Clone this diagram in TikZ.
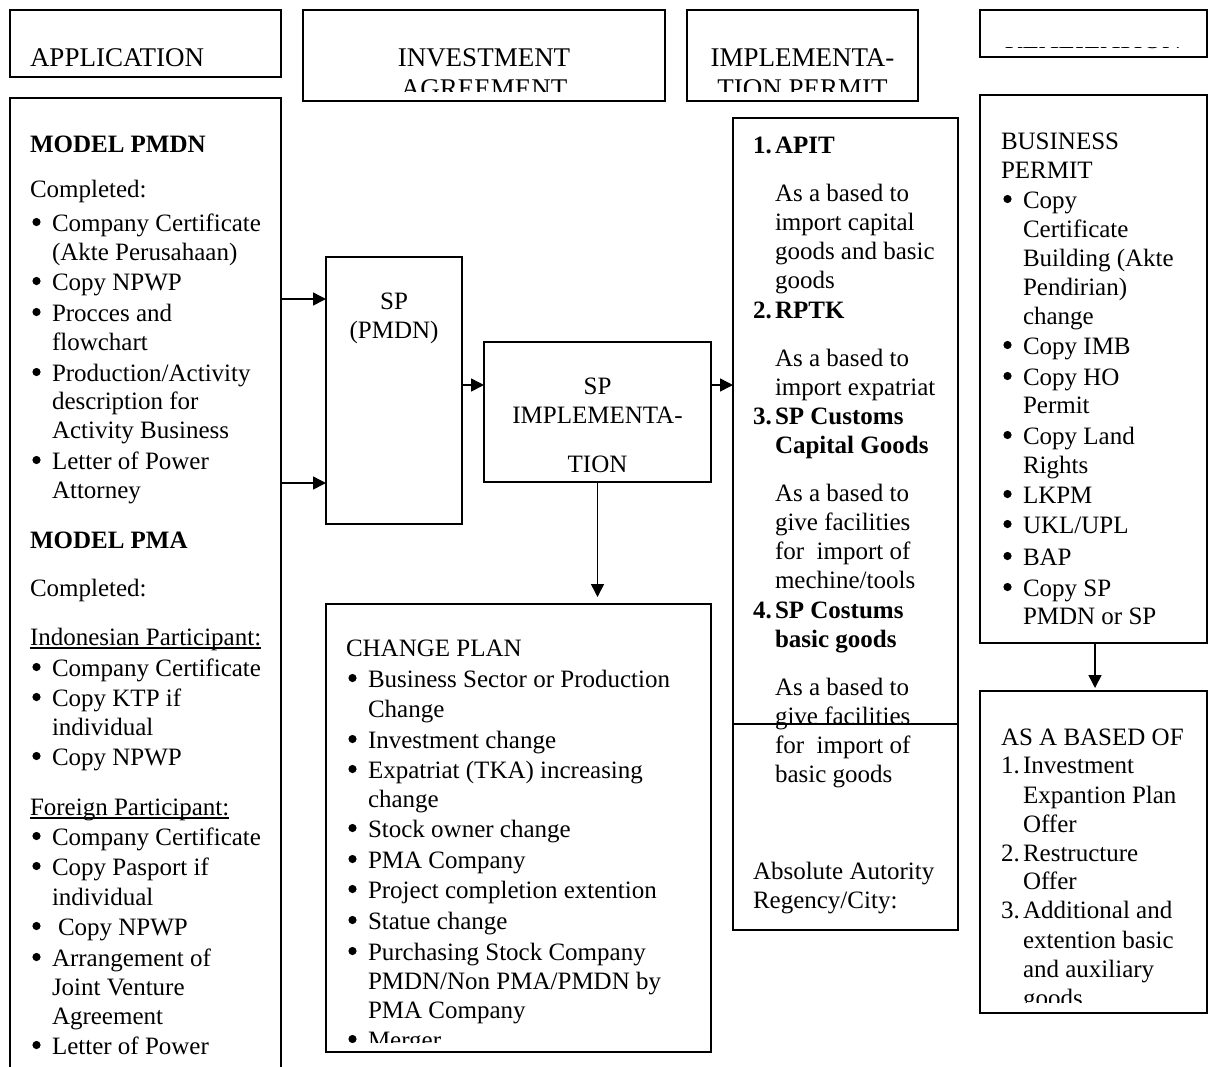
\documentclass[tikz,border=0pt]{standalone}
\usepackage{fontspec}
\setmainfont{Liberation Serif}
\usetikzlibrary{arrows.meta}
\tikzset{
  box/.style={draw, line width=1.6pt, anchor=north west, inner sep=0pt, outer sep=0pt},
  txt/.style={anchor=base west, inner sep=0pt, outer sep=0pt, font=\fontsize{25}{30}\selectfont},
  ctxt/.style={anchor=base, inner sep=0pt, outer sep=0pt, font=\fontsize{25}{30}\selectfont},
  htxt/.style={anchor=base west, inner sep=0pt, outer sep=0pt, font=\fontsize{27}{31}\selectfont},
  hctxt/.style={anchor=base, inner sep=0pt, outer sep=0pt, font=\fontsize{27}{31}\selectfont},
  arr/.style={line width=1.5pt, -{Triangle[length=13pt,width=13pt]}},
}
% box: name, x, y (top-left, image px), width, height
\newcommand\bx[5]{\node[box, minimum width=#4pt, minimum height=#5pt] (#1) at (#2,#3) {};}
% text line: [style] name x y text
\newcommand\ptxt[5][txt]{\node[#1] (#2) at (#3,#4) {#5};}
% bullet line: name bulletx textx y text
\newcommand\bline[5]{\fill (#2,#4-9) circle (4.1pt);\node[txt] (#1) at (#3,#4) {#5};}
\begin{document}
\begin{tikzpicture}[x=1pt,y=-1pt]
\clip (0,0) rectangle (1209,1066);
\fill[white] (0,0) rectangle (1209,1066);

% ---------- header boxes ----------
\bx{happ}{10}{10}{271}{67}
\bx{hinv}{303}{10}{362}{91}
\bx{himp}{687}{10}{231}{91}
\bx{hrea}{980}{10}{227}{47}
\ptxt[htxt]{tapp}{30}{66}{APPLICATION}
\ptxt[hctxt]{tinv1}{484}{66}{INVESTMENT}
\ptxt[hctxt]{timp1}{802.5}{66}{IMPLEMENTA-}
\begin{scope}
  \clip (303,10) rectangle (918,91);
  \ptxt[hctxt]{tinv2}{484}{97}{AGREEMENT}
  \ptxt[hctxt]{timp2}{802.5}{97}{TION PERMIT}
\end{scope}
\begin{scope}
  \clip (980,47) rectangle (1207,57);
  \ptxt[hctxt]{trea}{1093}{48.6}{REALIZATION}
\end{scope}

% ---------- main boxes ----------
\bx{lbox}{10}{98}{271}{1000}
\bx{sppmdn}{326}{257}{136}{267}
\bx{spimpl}{484}{342}{227}{140}
\bx{chg}{326}{604}{385}{448}
\bx{apit}{733}{118}{225}{812}
\bx{bperm}{980}{95}{227}{548}
\bx{based}{980}{691}{227}{322}

% ---------- left column ----------
\ptxt{l1}{30}{152}{\bfseries MODEL PMDN}
\ptxt{l2}{30}{197}{Completed:}
\bline{l3}{36.5}{52}{231}{Company Certificate}
\ptxt{l4}{52}{260}{(Akte Perusahaan)}
\bline{l5}{36.5}{52}{290}{Copy NPWP}
\bline{l6}{36.5}{52}{321}{Procces and}
\ptxt{l7}{52}{350}{flowchart}
\bline{l8}{36.5}{52}{381}{Production/Activity}
\ptxt{l9}{52}{409}{description for}
\ptxt{l10}{52}{438}{Activity Business}
\bline{l11}{36.5}{52}{469}{Letter of Power}
\ptxt{l12}{52}{498}{Attorney}
\ptxt{l13}{30}{548}{\bfseries MODEL PMA}
\ptxt{l14}{30}{596}{Completed:}
\ptxt{l15}{30}{645}{Indonesian Participant:}
\draw[line width=1.2pt] ([yshift=-3pt]l15.base west) -- ([yshift=-3pt]l15.base east);
\bline{l16}{36.5}{52}{676}{Company Certificate}
\bline{l17}{36.5}{52}{706}{Copy KTP if}
\ptxt{l18}{52}{735}{individual}
\bline{l19}{36.5}{52}{765}{Copy NPWP}
\ptxt{l20}{30}{815}{Foreign Participant:}
\draw[line width=1.2pt] ([yshift=-3pt]l20.base west) -- ([yshift=-3pt]l20.base east);
\bline{l21}{36.5}{52}{845}{Company Certificate}
\bline{l22}{36.5}{52}{875}{Copy Pasport if}
\ptxt{l23}{52}{905}{individual}
\bline{l24}{36.5}{58}{935}{Copy NPWP}
\bline{l25}{36.5}{52}{966}{Arrangement of}
\ptxt{l26}{52}{995}{Joint Venture}
\ptxt{l27}{52}{1024}{Agreement}
\bline{l28}{36.5}{52}{1054}{Letter of Power}

% ---------- SP boxes ----------
\ptxt[ctxt]{s1}{394}{309}{SP}
\ptxt[ctxt]{s2}{394}{338}{(PMDN)}
\ptxt[ctxt]{s3}{597.5}{394}{SP}
\ptxt[ctxt]{s4}{597.5}{423}{IMPLEMENTA-}
\ptxt[ctxt]{s5}{597.5}{472}{TION}

% ---------- change plan ----------
\ptxt{c1}{346}{656}{CHANGE PLAN}
\bline{c2}{352.5}{368}{687}{Business Sector or Production}
\ptxt{c3}{368}{717}{Change}
\bline{c4}{352.5}{368}{748}{Investment change}
\bline{c5}{352.5}{368}{778}{Expatriat (TKA) increasing}
\ptxt{c6}{368}{807}{change}
\bline{c7}{352.5}{368}{837}{Stock owner change}
\bline{c8}{352.5}{368}{868}{PMA Company}
\bline{c9}{352.5}{368}{898}{Project completion extention}
\bline{c10}{352.5}{368}{929}{Statue change}
\bline{c11}{352.5}{368}{960}{Purchasing Stock Company}
\ptxt{c12}{368}{989}{PMDN/Non PMA/PMDN by}
\ptxt{c13}{368}{1018}{PMA Company}
\begin{scope}
  \clip (326,1000) rectangle (711,1042);
  \bline{c14}{352.5}{368}{1048}{Merger}
\end{scope}

% ---------- APIT column ----------
\ptxt{a1n}{753}{153}{\bfseries 1.}
\ptxt{a1}{775}{153}{\bfseries APIT}
\ptxt{a2}{775}{201}{As a based to}
\ptxt{a3}{775}{230}{import capital}
\ptxt{a4}{775}{259}{goods and basic}
\ptxt{a5}{775}{288}{goods}
\ptxt{a6n}{753}{318}{\bfseries 2.}
\ptxt{a6}{775}{318}{\bfseries RPTK}
\ptxt{a7}{775}{366}{As a based to}
\ptxt{a8}{775}{395}{import expatriat}
\ptxt{a9n}{753}{424}{\bfseries 3.}
\ptxt{a9}{775}{424}{\bfseries SP Customs}
\ptxt{a10}{775}{453}{\bfseries Capital Goods}
\ptxt{a11}{775}{501}{As a based to}
\ptxt{a12}{775}{530}{give facilities}
\ptxt{a13}{775}{559}{for\ \ import of}
\ptxt{a14}{775}{588}{mechine/tools}
\ptxt{a15n}{753}{618}{\bfseries 4.}
\ptxt{a15}{775}{618}{\bfseries SP Costums}
\ptxt{a16}{775}{647}{\bfseries basic goods}
\ptxt{a17}{775}{695}{As a based to}
\ptxt{a18}{775}{724}{give facilities}
\ptxt{a19}{775}{753}{for\ \ import of}
\ptxt{a20}{775}{782}{basic goods}
\ptxt{a21}{753}{879}{Absolute Autority}
\ptxt{a22}{753}{908}{Regency/City:}
\coordinate (ysplit) at (0,724);
\draw[line width=1.6pt] (apit.west |- ysplit) -- (apit.east |- ysplit);

% ---------- business permit ----------
\ptxt{b1}{1001}{149}{BUSINESS}
\ptxt{b2}{1001}{178}{PERMIT}
\bline{b3}{1007.5}{1023}{208}{Copy}
\ptxt{b4}{1023}{237}{Certificate}
\ptxt{b5}{1023}{266}{Building (Akte}
\ptxt{b6}{1023}{295}{Pendirian)}
\ptxt{b7}{1023}{324}{change}
\bline{b8}{1007.5}{1023}{354}{Copy IMB}
\bline{b9}{1007.5}{1023}{385}{Copy HO}
\ptxt{b10}{1023}{413}{Permit}
\bline{b11}{1007.5}{1023}{444}{Copy Land}
\ptxt{b12}{1023}{473}{Rights}
\bline{b13}{1007.5}{1023}{503}{LKPM}
\bline{b14}{1007.5}{1023}{533}{UKL/UPL}
\bline{b15}{1007.5}{1023}{565}{BAP}
\bline{b16}{1007.5}{1023}{596}{Copy SP}
\ptxt{b17}{1023}{624}{PMDN or SP}

% ---------- as a based of ----------
\ptxt{d1}{1001}{745}{AS A BASED OF}
\ptxt{d2n}{1001}{773}{1.}
\ptxt{d2}{1023}{773}{Investment}
\ptxt{d3}{1023}{803}{Expantion Plan}
\ptxt{d4}{1023}{832}{Offer}
\ptxt{d5n}{1001}{861}{2.}
\ptxt{d5}{1023}{861}{Restructure}
\ptxt{d6}{1023}{889}{Offer}
\ptxt{d7n}{1001}{918}{3.}
\ptxt{d7}{1023}{918}{Additional and}
\ptxt{d8}{1023}{948}{extention basic}
\ptxt{d9}{1023}{977}{and auxiliary}
\begin{scope}
  \clip (980,980) rectangle (1207,1002);
  \ptxt{d10}{1023}{1006}{goods}
\end{scope}

% ---------- connectors ----------
\coordinate (ya) at (0,299);
\coordinate (yb) at (0,483);
\coordinate (yc) at (0,385);
\coordinate (downend) at (597.5,597);
\coordinate (rightend) at (1095,688);
\draw[arr] (lbox.east |- ya) -- (sppmdn.west |- ya);
\draw[arr] (lbox.east |- yb) -- (sppmdn.west |- yb);
\draw[arr] (sppmdn.east |- yc) -- (spimpl.west |- yc);
\draw[arr] (spimpl.east |- yc) -- (apit.west |- yc);
\draw[arr] (spimpl.south) -- (downend);
\draw[arr] (bperm.south -| rightend) -- (rightend);
\end{tikzpicture}
\end{document}
